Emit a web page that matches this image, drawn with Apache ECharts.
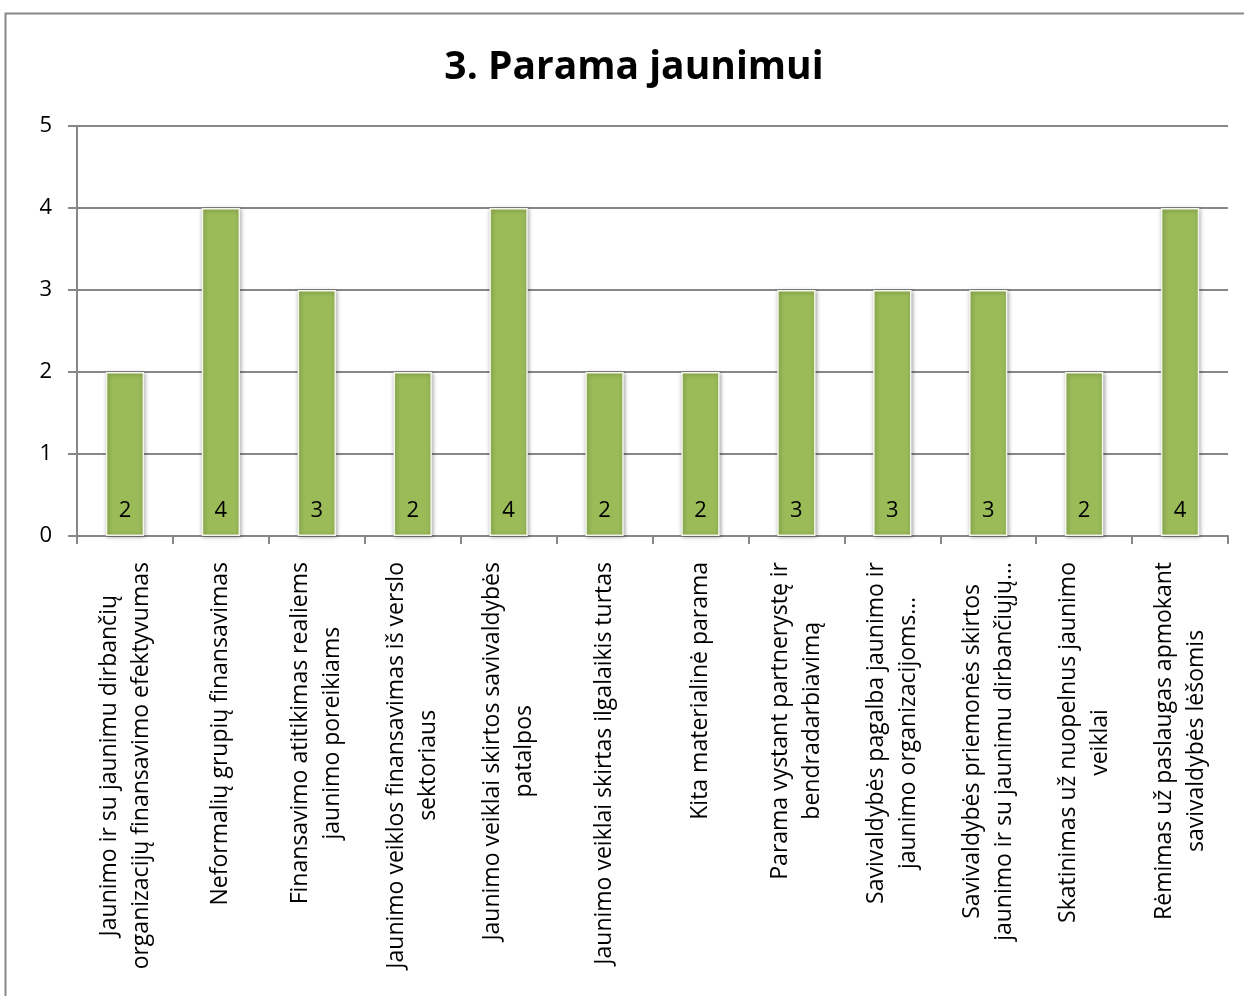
<!DOCTYPE html>
<html><head><meta charset="utf-8">
<script src="https://cdn.jsdelivr.net/npm/echarts@6/dist/echarts.min.js"></script>
<style>html,body{margin:0;padding:0;background:#fff}#c{width:1244px;height:996px}</style>
</head><body><div id="c"></div>
<script>
const titleText = '3. Parama jaunimui';
const categories = [
  'Jaunimo ir su jaunimu dirbančių\norganizacijų finansavimo efektyvumas',
  'Neformalių grupių finansavimas',
  'Finansavimo atitikimas realiems\njaunimo poreikiams',
  'Jaunimo veiklos finansavimas iš verslo\nsektoriaus',
  'Jaunimo veiklai skirtos savivaldybės\npatalpos',
  'Jaunimo veiklai skirtas ilgalaikis turtas',
  'Kita materialinė parama',
  'Parama vystant partnerystę ir\nbendradarbiavimą',
  'Savivaldybės pagalba jaunimo ir\njaunimo organizacijoms…',
  'Savivaldybės priemonės skirtos\njaunimo ir su jaunimu dirbančiųjų…',
  'Skatinimas už nuopelnus jaunimo\nveiklai',
  'Rėmimas už paslaugas apmokant\nsavivaldybės lėšomis'
];
const values = [2, 4, 3, 2, 4, 2, 2, 3, 3, 3, 2, 4];
const yTicks = [0, 1, 2, 3, 4, 5];

const FONT = '"Open Sans", "Noto Sans", sans-serif';
const chart = echarts.init(document.getElementById('c'));
chart.setOption({
  animation: false,
  backgroundColor: '#fff',
  graphic: [{
    type: 'rect', shape: {x: 5.5, y: 13.5, width: 1300, height: 1100},
    style: {fill: 'none', stroke: '#878787', lineWidth: 2}, silent: true
  }, {
    type: 'text', x: 634, y: 68, silent: true,
    style: {text: titleText, fill: '#000', font: 'bold 39px "Open Sans", "Noto Sans", sans-serif',
      textAlign: 'center', textVerticalAlign: 'middle'}
  }],
  grid: {left: 77, right: 16, top: 126, bottom: 460, containLabel: false},
  xAxis: {
    type: 'category', data: categories,
    axisLine: {lineStyle: {color: '#878787', width: 2}},
    axisTick: {show: true, length: 8, lineStyle: {color: '#878787', width: 2}},
    axisLabel: {
      rotate: 90, interval: 0, margin: 26, align: 'right', verticalAlign: 'middle',
      color: '#000', fontFamily: FONT, fontSize: 23, lineHeight: 32,
      formatter: function (v) { return v.split('\n').map(function (s) { return '{c|' + s + '}'; }).join('\n'); },
      rich: {c: {align: 'center', fontFamily: FONT, fontSize: 23, lineHeight: 32, color: '#000'}}
    }
  },
  yAxis: {
    type: 'value', min: yTicks[0], max: yTicks[yTicks.length - 1], interval: 1,
    axisLine: {show: true, lineStyle: {color: '#878787', width: 2}},
    axisTick: {show: true, length: 9, lineStyle: {color: '#878787', width: 2}},
    axisLabel: {color: '#000', fontFamily: FONT, fontSize: 22, margin: 25},
    splitLine: {lineStyle: {color: '#878787', width: 2}}
  },
  series: [{
    type: 'bar', data: values, barWidth: '40%',
    itemStyle: {color: '#9BBB59', borderColor: '#F2F6EA', borderWidth: 1.5,
      shadowColor: 'rgba(0,0,0,0.35)', shadowBlur: 4, shadowOffsetX: 1, shadowOffsetY: 1},
    label: {show: true, position: 'insideBottom', distance: 14, color: '#000',
      fontFamily: FONT, fontSize: 22}
  }]
});
</script></body></html>
